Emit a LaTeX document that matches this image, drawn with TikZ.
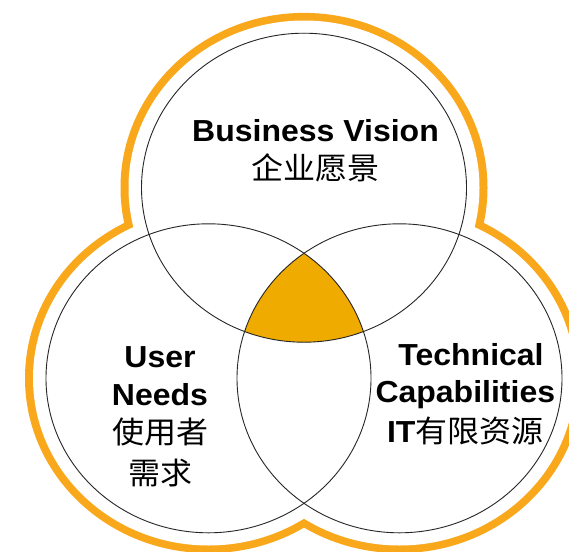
\documentclass[tikz,border=0pt]{standalone}
\usepackage{graphicx}
\usepackage{fontspec}
\setmainfont{Liberation Sans}
\newfontfamily\cjk{Noto Sans CJK SC}
\definecolor{ringc}{HTML}{F9A81B}
\definecolor{fillc}{HTML}{EFAB00}
\newcommand{\sqz}[1]{\scalebox{1}[0.95]{#1}}
\begin{document}
\begin{tikzpicture}[x=1pt,y=-1pt,
  en/.style={font=\fontsize{32}{38}\selectfont\bfseries, anchor=base, inner sep=0pt},
  zh/.style={font=\fontsize{32}{38}\selectfont\cjk, anchor=base, inner sep=0pt},
  outl/.style={draw=black!85, line width=0.9pt}]
\useasboundingbox (0,0) rectangle (569,551);
\clip (0,0) rectangle (569,551);
\fill[white] (0,0) rectangle (569,551);
\coordinate (T) at (304,187.7);
\coordinate (L) at (208.5,378.3);
\coordinate (R) at (399.5,378.3);
% outer orange ring
\fill[ringc] (T) ellipse [x radius=183.5, y radius=174.8]
             (L) ellipse [x radius=183.5, y radius=174.8]
             (R) ellipse [x radius=183.5, y radius=174.8];
\fill[white] (T) ellipse [x radius=175.5, y radius=167.2]
             (L) ellipse [x radius=175.5, y radius=167.2]
             (R) ellipse [x radius=175.5, y radius=167.2];
% central intersection
\begin{scope}
  \clip (T) ellipse [x radius=162.5, y radius=154.5];
  \clip (L) ellipse [x radius=162.5, y radius=154.5];
  \fill[fillc] (R) ellipse [x radius=162.5, y radius=154.5];
\end{scope}
% circles
\draw[outl] (T) ellipse [x radius=162.5, y radius=154.5];
\draw[outl] (L) ellipse [x radius=162.5, y radius=154.5];
\draw[outl] (R) ellipse [x radius=162.5, y radius=154.5];
% texts
\node[en] (bv) at (315.5,141.3) {\sqz{Business Vision}};
\node[zh] (bvz) at (315,179.5) {\sqz{企业愿景}};
\node[en] (u1) at (160,367.2) {\sqz{User}};
\node[en] (u2) at (160,405.8) {\sqz{Needs}};
\node[zh] (u3) at (160,443.5) {\sqz{使用者}};
\node[zh] (u4) at (160,484) {\sqz{需求}};
\node[en] (t1) at (471,365.4) {\sqz{Technical}};
\node[en] (t2) at (465.3,402.3) {\sqz{Capabilities}};
\node[en] (t3) at (465.3,442.7) {\sqz{IT{\cjk\mdseries 有限资源}}};
\end{tikzpicture}
\end{document}
